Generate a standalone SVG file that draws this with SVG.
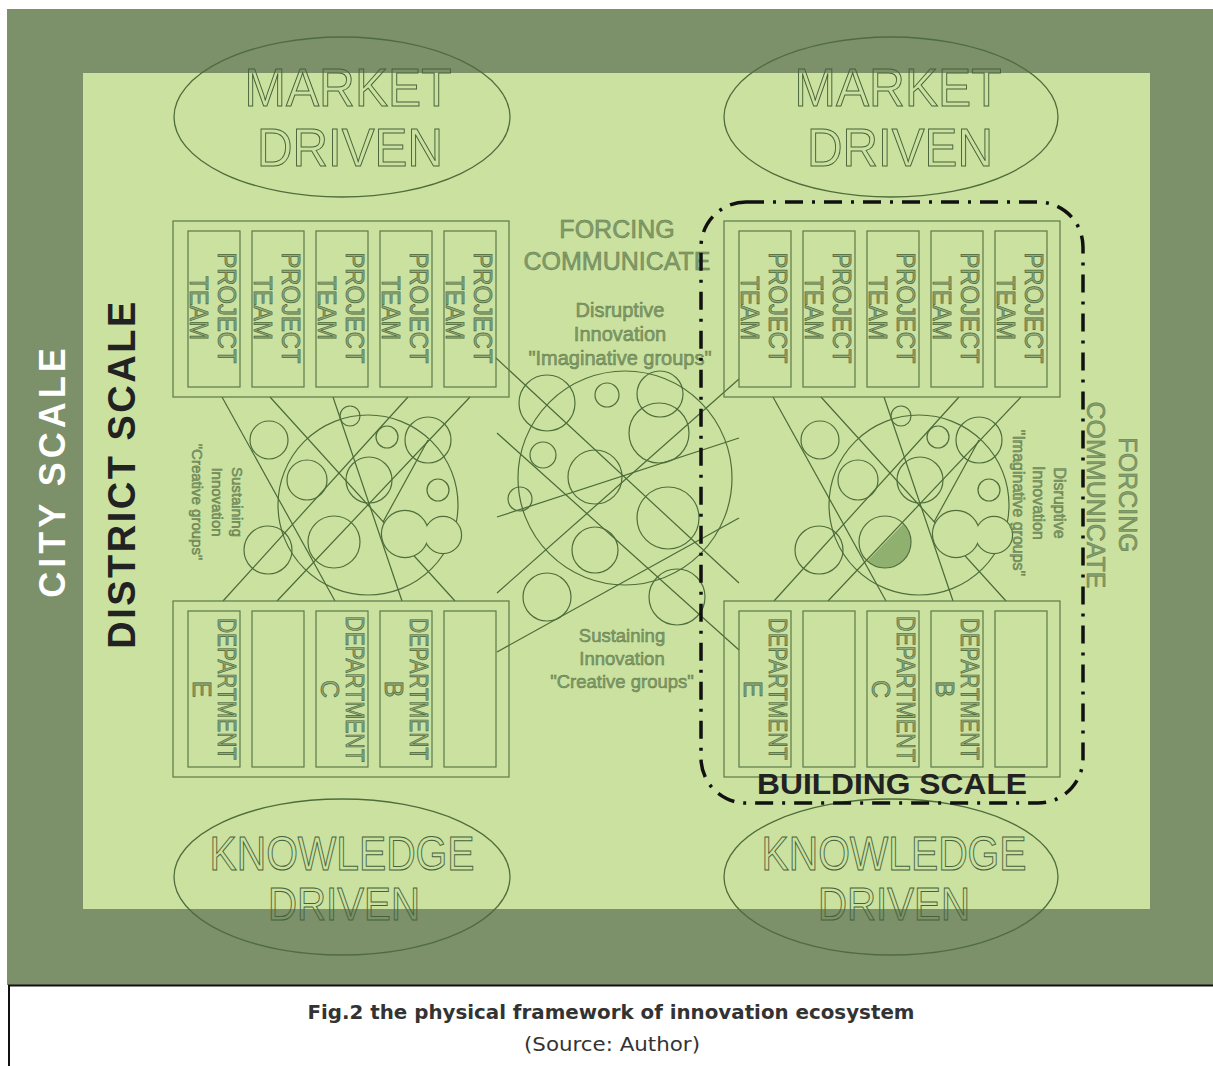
<svg xmlns="http://www.w3.org/2000/svg" width="1213" height="1066" viewBox="0 0 1213 1066">
  <style>
    .dark { fill: #7c906a; }
    .light { fill: #cbe1a0; }
    .ell { fill: none; stroke: #4f6d3c; stroke-width: 1.3; }
    .otext { font-family: "Liberation Sans", Arial, sans-serif; fill: none; stroke: #46623a; stroke-width: 1; text-anchor: middle; }
    .blk { fill: none; stroke: #5a7948; stroke-width: 1.2; }
    .btext { font-family: "Liberation Sans", Arial, sans-serif; font-size: 25px; fill: #93ac7a; stroke: #4b673a; stroke-width: 0.7; text-anchor: middle; }
    .ln { fill: none; stroke: #4a6a38; stroke-width: 1.2; }
    .cir { fill: none; stroke: #4f6e3c; stroke-width: 1.2; }
    .soft { font-family: "Liberation Sans", Arial, sans-serif; fill: #849d6c; stroke: #5f7b4a; stroke-width: 0.5; text-anchor: middle; }
    .scale { font-family: "Liberation Sans", Arial, sans-serif; font-weight: bold; text-anchor: middle; }
    .cap { font-family: "DejaVu Sans Condensed", "DejaVu Sans", sans-serif; fill: #333; text-anchor: middle; }
  </style>

  <!-- page background and frames -->
  <rect x="0" y="0" width="1213" height="1066" fill="#ffffff"/>
  <rect class="dark" x="7" y="9" width="1206" height="976"/>
  <rect class="light" x="83" y="73" width="1067" height="836"/>

  <!-- driver ellipses -->
  <g id="market-driven-left">
    <ellipse class="ell" cx="342" cy="117" rx="168" ry="80"/>
    <text class="otext" x="348" y="106" font-size="53" textLength="207" lengthAdjust="spacingAndGlyphs">MARKET</text>
    <text class="otext" x="350" y="166" font-size="53" textLength="186" lengthAdjust="spacingAndGlyphs">DRIVEN</text>
  </g>
  <g id="market-driven-right">
    <ellipse class="ell" cx="891" cy="117" rx="167" ry="80"/>
    <text class="otext" x="898" y="106" font-size="53" textLength="207" lengthAdjust="spacingAndGlyphs">MARKET</text>
    <text class="otext" x="900" y="166" font-size="53" textLength="186" lengthAdjust="spacingAndGlyphs">DRIVEN</text>
  </g>
  <g id="knowledge-driven-left">
    <ellipse class="ell" cx="342" cy="877" rx="168" ry="78"/>
    <text class="otext" x="342" y="870" font-size="48" textLength="265" lengthAdjust="spacingAndGlyphs">KNOWLEDGE</text>
    <text class="otext" x="344" y="920" font-size="47" textLength="152" lengthAdjust="spacingAndGlyphs">DRIVEN</text>
  </g>
  <g id="knowledge-driven-right">
    <ellipse class="ell" cx="891" cy="877" rx="167" ry="78"/>
    <text class="otext" x="894" y="870" font-size="48" textLength="265" lengthAdjust="spacingAndGlyphs">KNOWLEDGE</text>
    <text class="otext" x="894" y="920" font-size="47" textLength="152" lengthAdjust="spacingAndGlyphs">DRIVEN</text>
  </g>

  <!-- connectors: crossing lines between project teams and departments -->
  <g id="connectors">
    <g id="lines-left">
      <line class="ln" x1="222" y1="397" x2="335" y2="601"/>
      <line class="ln" x1="270" y1="397" x2="455" y2="601"/>
      <line class="ln" x1="333" y1="397" x2="402" y2="601"/>
      <line class="ln" x1="408" y1="397" x2="223" y2="601"/>
      <line class="ln" x1="470" y1="397" x2="277" y2="601"/>
      <line class="ln" x1="383" y1="522" x2="428" y2="440"/>
    </g>
    <g id="lines-right" transform="translate(551,0)">
      <line class="ln" x1="222" y1="397" x2="335" y2="601"/>
      <line class="ln" x1="270" y1="397" x2="455" y2="601"/>
      <line class="ln" x1="333" y1="397" x2="402" y2="601"/>
      <line class="ln" x1="408" y1="397" x2="223" y2="601"/>
      <line class="ln" x1="470" y1="397" x2="277" y2="601"/>
      <line class="ln" x1="383" y1="522" x2="428" y2="440"/>
    </g>
    <g id="lines-middle">
      <line class="ln" x1="496" y1="358" x2="739" y2="583"/>
      <line class="ln" x1="497" y1="433" x2="739" y2="650"/>
      <line class="ln" x1="497" y1="517" x2="739" y2="438"/>
      <line class="ln" x1="497" y1="593" x2="739" y2="379"/>
      <line class="ln" x1="497" y1="652" x2="739" y2="518"/>
    </g>
  </g>

  <!-- group clusters -->
  <g id="cluster-left">
    <circle class="cir" cx="368" cy="505" r="90"/>
    <circle class="cir" cx="269" cy="440" r="19"/>
    <circle class="cir" cx="350" cy="416" r="10"/>
    <circle class="cir" cx="387" cy="437" r="11"/>
    <circle class="cir" cx="428" cy="440" r="23"/>
    <circle class="cir" cx="307" cy="480" r="20"/>
    <circle class="cir" cx="369" cy="480" r="23"/>
    <circle class="cir" cx="438" cy="490" r="11"/>
    <circle class="cir" cx="268" cy="550" r="24"/>
    <circle class="cir" cx="334" cy="542" r="26"/>
    <g id="cloud-left">
      <circle cx="405" cy="534" r="23" fill="#cbe1a0" stroke="#4f6e3c" stroke-width="2.4"/>
      <circle cx="443" cy="535" r="18" fill="#cbe1a0" stroke="#4f6e3c" stroke-width="2.4"/>
      <circle cx="405" cy="534" r="23" fill="#cbe1a0"/>
      <circle cx="443" cy="535" r="18" fill="#cbe1a0"/>
    </g>
  </g>
  <g id="cluster-right" transform="translate(551,0)">
    <path d="M 352.3 523.8 A 26 26 0 0 1 316.2 561.2 Z" fill="#8fb06f" stroke="none"/>
    <circle class="cir" cx="368" cy="505" r="90"/>
    <circle class="cir" cx="269" cy="440" r="19"/>
    <circle class="cir" cx="350" cy="416" r="10"/>
    <circle class="cir" cx="387" cy="437" r="11"/>
    <circle class="cir" cx="428" cy="440" r="23"/>
    <circle class="cir" cx="307" cy="480" r="20"/>
    <circle class="cir" cx="369" cy="480" r="23"/>
    <circle class="cir" cx="438" cy="490" r="11"/>
    <circle class="cir" cx="268" cy="550" r="24"/>
    <circle class="cir" cx="334" cy="542" r="26"/>
    <g id="cloud-right">
      <circle cx="405" cy="534" r="23" fill="#cbe1a0" stroke="#4f6e3c" stroke-width="2.4"/>
      <circle cx="443" cy="535" r="18" fill="#cbe1a0" stroke="#4f6e3c" stroke-width="2.4"/>
      <circle cx="405" cy="534" r="23" fill="#cbe1a0"/>
      <circle cx="443" cy="535" r="18" fill="#cbe1a0"/>
    </g>
  </g>
  <g id="cluster-middle">
    <circle class="cir" cx="625" cy="478" r="107"/>
    <circle class="cir" cx="547" cy="403" r="28"/>
    <circle class="cir" cx="607" cy="395" r="12"/>
    <circle class="cir" cx="660" cy="394" r="23"/>
    <circle class="cir" cx="659" cy="433" r="30"/>
    <circle class="cir" cx="543" cy="455" r="13"/>
    <circle class="cir" cx="595" cy="477" r="27"/>
    <circle class="cir" cx="520" cy="499" r="12"/>
    <circle class="cir" cx="668" cy="518" r="31"/>
    <circle class="cir" cx="595" cy="550" r="23"/>
    <circle class="cir" cx="547" cy="597" r="24"/>
    <circle class="cir" cx="677" cy="597" r="28"/>
  </g>

  <!-- project team blocks -->
  <g id="project-teams-left">
    <rect class="blk" x="173" y="221" width="336" height="176"/>
    <rect class="blk" x="188" y="231" width="52" height="156"/>
    <rect class="blk" x="252" y="231" width="52" height="156"/>
    <rect class="blk" x="316" y="231" width="52" height="156"/>
    <rect class="blk" x="380" y="231" width="52" height="156"/>
    <rect class="blk" x="444" y="231" width="52" height="156"/>
    <g transform="translate(214,308) rotate(90)"><text class="btext" y="-4" textLength="111" lengthAdjust="spacingAndGlyphs">PROJECT</text><text class="btext" y="24" textLength="64" lengthAdjust="spacingAndGlyphs">TEAM</text></g>
    <g transform="translate(278,308) rotate(90)"><text class="btext" y="-4" textLength="111" lengthAdjust="spacingAndGlyphs">PROJECT</text><text class="btext" y="24" textLength="64" lengthAdjust="spacingAndGlyphs">TEAM</text></g>
    <g transform="translate(342,308) rotate(90)"><text class="btext" y="-4" textLength="111" lengthAdjust="spacingAndGlyphs">PROJECT</text><text class="btext" y="24" textLength="64" lengthAdjust="spacingAndGlyphs">TEAM</text></g>
    <g transform="translate(406,308) rotate(90)"><text class="btext" y="-4" textLength="111" lengthAdjust="spacingAndGlyphs">PROJECT</text><text class="btext" y="24" textLength="64" lengthAdjust="spacingAndGlyphs">TEAM</text></g>
    <g transform="translate(470,308) rotate(90)"><text class="btext" y="-4" textLength="111" lengthAdjust="spacingAndGlyphs">PROJECT</text><text class="btext" y="24" textLength="64" lengthAdjust="spacingAndGlyphs">TEAM</text></g>
  </g>
  <g id="project-teams-right" transform="translate(551,0)">
    <rect class="blk" x="173" y="221" width="336" height="176"/>
    <rect class="blk" x="188" y="231" width="52" height="156"/>
    <rect class="blk" x="252" y="231" width="52" height="156"/>
    <rect class="blk" x="316" y="231" width="52" height="156"/>
    <rect class="blk" x="380" y="231" width="52" height="156"/>
    <rect class="blk" x="444" y="231" width="52" height="156"/>
    <g transform="translate(214,308) rotate(90)"><text class="btext" y="-4" textLength="111" lengthAdjust="spacingAndGlyphs">PROJECT</text><text class="btext" y="24" textLength="64" lengthAdjust="spacingAndGlyphs">TEAM</text></g>
    <g transform="translate(278,308) rotate(90)"><text class="btext" y="-4" textLength="111" lengthAdjust="spacingAndGlyphs">PROJECT</text><text class="btext" y="24" textLength="64" lengthAdjust="spacingAndGlyphs">TEAM</text></g>
    <g transform="translate(342,308) rotate(90)"><text class="btext" y="-4" textLength="111" lengthAdjust="spacingAndGlyphs">PROJECT</text><text class="btext" y="24" textLength="64" lengthAdjust="spacingAndGlyphs">TEAM</text></g>
    <g transform="translate(406,308) rotate(90)"><text class="btext" y="-4" textLength="111" lengthAdjust="spacingAndGlyphs">PROJECT</text><text class="btext" y="24" textLength="64" lengthAdjust="spacingAndGlyphs">TEAM</text></g>
    <g transform="translate(470,308) rotate(90)"><text class="btext" y="-4" textLength="111" lengthAdjust="spacingAndGlyphs">PROJECT</text><text class="btext" y="24" textLength="64" lengthAdjust="spacingAndGlyphs">TEAM</text></g>
  </g>

  <!-- department blocks -->
  <g id="departments-left">
    <rect class="blk" x="173" y="601" width="336" height="176"/>
    <rect class="blk" x="188" y="611" width="52" height="156"/>
    <rect class="blk" x="252" y="611" width="52" height="156"/>
    <rect class="blk" x="316" y="611" width="52" height="156"/>
    <rect class="blk" x="380" y="611" width="52" height="156"/>
    <rect class="blk" x="444" y="611" width="52" height="156"/>
    <g transform="translate(214,689) rotate(90)"><text class="btext" y="-4" textLength="142" lengthAdjust="spacingAndGlyphs">DEPARTMENT</text><text class="btext" y="21">E</text></g>
    <g transform="translate(342,689) rotate(90)"><text class="btext" y="-4" textLength="146" lengthAdjust="spacingAndGlyphs">DEPARTMENT</text><text class="btext" y="21">C</text></g>
    <g transform="translate(406,689) rotate(90)"><text class="btext" y="-4" textLength="142" lengthAdjust="spacingAndGlyphs">DEPARTMENT</text><text class="btext" y="21">B</text></g>
  </g>
  <g id="departments-right" transform="translate(551,0)">
    <rect class="blk" x="173" y="601" width="336" height="176"/>
    <rect class="blk" x="188" y="611" width="52" height="156"/>
    <rect class="blk" x="252" y="611" width="52" height="156"/>
    <rect class="blk" x="316" y="611" width="52" height="156"/>
    <rect class="blk" x="380" y="611" width="52" height="156"/>
    <rect class="blk" x="444" y="611" width="52" height="156"/>
    <g transform="translate(214,689) rotate(90)"><text class="btext" y="-4" textLength="142" lengthAdjust="spacingAndGlyphs">DEPARTMENT</text><text class="btext" y="21">E</text></g>
    <g transform="translate(342,689) rotate(90)"><text class="btext" y="-4" textLength="146" lengthAdjust="spacingAndGlyphs">DEPARTMENT</text><text class="btext" y="21">C</text></g>
    <g transform="translate(406,689) rotate(90)"><text class="btext" y="-4" textLength="142" lengthAdjust="spacingAndGlyphs">DEPARTMENT</text><text class="btext" y="21">B</text></g>
  </g>

  <!-- labels -->
  <g id="forcing-middle">
    <text class="soft" x="617" y="238" font-size="25">FORCING</text>
    <text class="soft" x="617" y="270" font-size="25">COMMUNICATE</text>
  </g>
  <g id="disruptive-middle">
    <text class="soft" x="620" y="317" font-size="20">Disruptive</text>
    <text class="soft" x="620" y="341" font-size="20">Innovation</text>
    <text class="soft" x="620" y="365" font-size="20">"Imaginative groups"</text>
  </g>
  <g id="sustaining-middle">
    <text class="soft" x="622" y="642" font-size="18.5">Sustaining</text>
    <text class="soft" x="622" y="665" font-size="18.5">Innovation</text>
    <text class="soft" x="622" y="688" font-size="18.5">"Creative groups"</text>
  </g>
  <g id="sustaining-left" transform="translate(215,502) rotate(90)">
    <text class="soft" y="-17" font-size="15">Sustaining</text>
    <text class="soft" y="3" font-size="15">Innovation</text>
    <text class="soft" y="23" font-size="15">"Creative groups"</text>
  </g>
  <g id="disruptive-right" transform="translate(1033,503) rotate(90)">
    <text class="soft" y="-21" font-size="16">Disruptive</text>
    <text class="soft" y="0" font-size="16">Innovation</text>
    <text class="soft" y="20" font-size="16">"Imaginative groups"</text>
  </g>
  <g id="forcing-right" transform="translate(1102,495) rotate(90)">
    <text class="soft" y="-17" font-size="25">FORCING</text>
    <text class="soft" y="15" font-size="25">COMMUNICATE</text>
  </g>

  <!-- scale labels -->
  <g id="city-scale" transform="translate(65,471) rotate(-90)">
    <text class="scale" fill="#ffffff" font-size="36" letter-spacing="4">CITY SCALE</text>
  </g>
  <g id="district-scale" transform="translate(135,474) rotate(-90)">
    <text class="scale" fill="#222222" font-size="38" letter-spacing="2.5">DISTRICT SCALE</text>
  </g>
  <g id="building-scale">
    <rect x="701" y="202" width="382" height="601" rx="45" ry="45" fill="none" stroke="#111111" stroke-width="3.5" stroke-dasharray="18 9 3 9"/>
    <text class="scale" x="892" y="794" fill="#222222" font-size="30" textLength="270" lengthAdjust="spacingAndGlyphs">BUILDING SCALE</text>
  </g>

  <!-- caption -->
  <g id="caption">
    <line x1="8" y1="985.5" x2="1213" y2="985.5" stroke="#111111" stroke-width="2"/>
    <line x1="9" y1="985" x2="9" y2="1066" stroke="#111111" stroke-width="2"/>
    <text class="cap" x="611" y="1019" font-size="20" font-weight="bold" textLength="607" lengthAdjust="spacingAndGlyphs">Fig.2 the physical framework of innovation ecosystem</text>
    <text class="cap" x="612" y="1051" font-size="20" textLength="176" lengthAdjust="spacingAndGlyphs">(Source: Author)</text>
  </g>
</svg>
